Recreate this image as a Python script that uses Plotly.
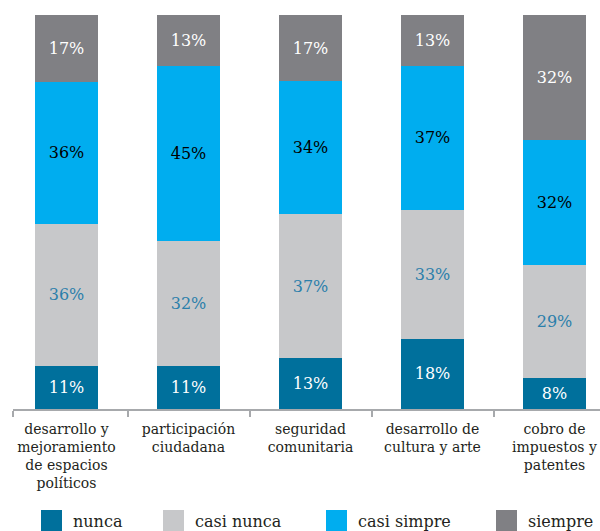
import plotly.graph_objects as go

categories = ["desarrollo y<br>mejoramiento<br>de espacios<br>políticos",
              "participación<br>ciudadana",
              "seguridad<br>comunitaria",
              "desarrollo de<br>cultura y arte",
              "cobro de<br>impuestos y<br>patentes"]
series = ["nunca", "casi nunca", "casi simpre", "siempre"]
nunca = [11, 11, 13, 18, 8]
casi_nunca = [36, 32, 37, 33, 29]
casi_simpre = [36, 45, 34, 37, 32]
siempre = [17, 13, 17, 13, 32]

colors = ["#00709c", "#c7c8ca", "#00adef", "#808084"]
text_colors = ["white", "#2b7faa", "black", "white"]
FONT = "DejaVu Serif"

W, H = 600, 531
L, T = 13, 15
axis_y = 409
step = 122.0
x0 = -53.5 / step
x1 = x0 + (W - L) / step

fig = go.Figure()
xs = list(range(len(categories)))
for name, vals, c, tc in zip(series, [nunca, casi_nunca, casi_simpre, siempre], colors, text_colors):
    fig.add_trace(go.Bar(
        x=xs, y=vals, name=name, marker_color=c, marker_line_width=0,
        width=0.52, text=[f"{v}%" for v in vals], textposition="inside",
        insidetextanchor="middle", textangle=0, constraintext="none",
        textfont=dict(family=FONT, size=16, color=tc),
        showlegend=False, hoverinfo="skip",
    ))

fig.update_layout(
    width=W, height=H, barmode="stack", barnorm="percent",
    margin=dict(l=L, r=0, t=T, b=H - axis_y),
    plot_bgcolor="white", paper_bgcolor="white",
    font=dict(family=FONT, color="#231f20"),
    xaxis=dict(range=[x0, x1], tickvals=xs, ticktext=categories, automargin=False,
               ticks="", showline=True, linecolor="#a7a9ac", linewidth=2,
               showgrid=False, zeroline=False, tickfont=dict(size=14, color="#231f20"),
               ticklabelstandoff=6,
               minor=dict(tickvals=[x0, 0.5, 1.5, 2.5, 3.5], ticks="outside",
                          ticklen=6, tickwidth=2, tickcolor="#a7a9ac", showgrid=False)),
    yaxis=dict(range=[0, 100], visible=False, automargin=False),
)

# legend drawn by hand for the big square swatches
plot_h = axis_y - T
plot_w = W - L
leg_x = [41, 163, 326, 496]
sq = 21
top = 510
for name, c, lx in zip(series, colors, leg_x):
    fig.add_shape(type="rect", xref="paper", yref="paper",
                  x0=(lx - L) / plot_w, x1=(lx + sq - L) / plot_w,
                  y0=(axis_y - top - sq) / plot_h, y1=(axis_y - top) / plot_h,
                  fillcolor=c, line_width=0)
    fig.add_annotation(xref="paper", yref="paper", x=(lx + sq + 9 - L) / plot_w,
                       y=(axis_y - 521) / plot_h, text=name, showarrow=False,
                       xanchor="left", yanchor="middle",
                       font=dict(family=FONT, size=16, color="#231f20"))

# drop the default page margin so the figure sits at the window corner
fig.write_html("out.html", config={"displayModeBar": False},
               post_script="document.body.style.margin='0';")
